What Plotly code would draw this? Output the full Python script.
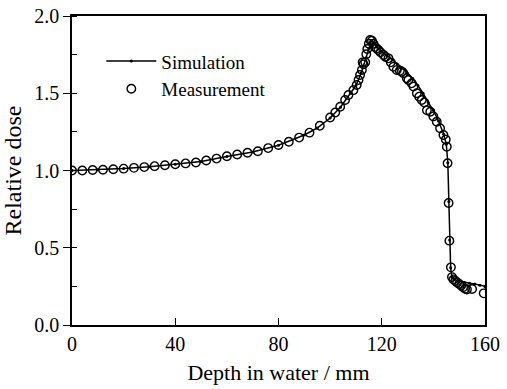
import plotly.graph_objects as go

# Simulation (line with small dots)
sim_x = [0, 10, 20, 30, 40, 50, 60, 70, 80, 90, 95, 100, 104, 108, 110, 112, 114, 115, 116,
         117, 118, 120, 122, 124, 126, 128, 130, 132, 134, 136, 138, 140, 142, 144, 145,
         145.6, 146, 146.3, 146.7, 147.2, 148, 150, 152, 154, 156, 158, 160]
sim_y = [1.000, 1.005, 1.013, 1.025, 1.040, 1.058, 1.090, 1.120, 1.163, 1.230, 1.275, 1.340,
         1.410, 1.500, 1.550, 1.630, 1.730, 1.790, 1.840,
         1.825, 1.800, 1.770, 1.745, 1.715, 1.690, 1.665, 1.630, 1.595, 1.550, 1.500, 1.440,
         1.390, 1.320, 1.235, 1.170,
         1.050, 0.800, 0.550, 0.370, 0.310, 0.295, 0.285, 0.275, 0.270, 0.265, 0.258, 0.250]

# Measurement (open circles)
meas_x = [0, 4, 8, 12, 16, 20, 24, 28, 32, 36, 40, 44, 48, 52, 56, 60, 64, 68, 72, 76, 80,
          84, 88, 92, 96, 100, 102, 103.9, 105.8, 107.1, 109, 110.3, 111, 111.6, 112.3,
          112.6, 112.9, 113.6, 114, 114.4, 115, 115.5,
          116.2, 116.8, 117.4, 118, 118.7, 119.5, 120.7, 121.5, 122.6, 123.5, 124.5, 125.8,
          127, 127.8, 128.4, 129.7, 130.3, 131.6, 132.3, 133.6, 134.5, 135.5, 136.5, 137.5,
          138.8, 140, 141.3, 142.6, 143.9, 144.8, 145.2, 145.5, 145.9, 146.2, 146.8, 147.2,
          147.8, 148.5, 149.2, 150, 150.8, 151.5, 152.3, 153, 155, 159.5]
meas_y = [1.000, 1.000, 1.003, 1.005, 1.008, 1.012, 1.017, 1.022, 1.028, 1.034, 1.040, 1.046,
          1.052, 1.065, 1.077, 1.092, 1.104, 1.115, 1.125, 1.145, 1.165, 1.186, 1.213, 1.245,
          1.290, 1.343, 1.375, 1.413, 1.456, 1.489, 1.520, 1.553, 1.586, 1.618, 1.650,
          1.700, 1.687, 1.700, 1.752, 1.786, 1.820, 1.845,
          1.840, 1.820, 1.800, 1.790, 1.780, 1.765, 1.748, 1.735, 1.726, 1.700, 1.672, 1.650,
          1.645, 1.640, 1.630, 1.597, 1.586, 1.564, 1.543, 1.500, 1.478, 1.456, 1.440, 1.390,
          1.380, 1.350, 1.316, 1.273, 1.230, 1.200, 1.154, 1.047, 0.790, 0.546, 0.373, 0.310,
          0.295, 0.285, 0.275, 0.265, 0.255, 0.245, 0.235, 0.230, 0.233, 0.205]

x_ticks = [0, 40, 80, 120, 160]
y_ticks = [0.0, 0.5, 1.0, 1.5, 2.0]
y_ticklabels = ["0.0", "0.5", "1.0", "1.5", "2.0"]

FONT = "Liberation Serif"

fig = go.Figure()
fig.add_trace(go.Scatter(
    x=sim_x, y=sim_y, mode="lines+markers", name="Simulation",
    line=dict(color="black", width=1.5),
    marker=dict(color="black", size=3, symbol="circle"),
))
fig.add_trace(go.Scatter(
    x=meas_x, y=meas_y, mode="markers", name="Measurement",
    marker=dict(symbol="circle-open", size=8.5, color="black", line=dict(width=1.4)),
))

fig.update_layout(
    width=507, height=389,
    margin=dict(l=72, r=22, t=16, b=64),
    paper_bgcolor="white", plot_bgcolor="white",
    font=dict(family=FONT, size=20, color="black"),
    showlegend=True,
    legend=dict(x=0.071, y=0.915, xanchor="left", yanchor="top",
                bgcolor="rgba(0,0,0,0)", font=dict(size=19, family=FONT),
                itemwidth=50, tracegroupgap=0),
)
fig.update_xaxes(
    range=[0, 160], tickvals=x_ticks, ticktext=[str(v) for v in x_ticks],
    ticks="inside", ticklen=7, tickwidth=1.3, tickcolor="black",
    showline=True, linecolor="black", linewidth=1.5, mirror=True,
    showgrid=False, zeroline=False, automargin=False,
    title=dict(text="Depth in water / mm", font=dict(size=22, family=FONT), standoff=11),
    tickfont=dict(size=20, family=FONT),
)
fig.update_yaxes(
    range=[0, 2.0], tickvals=y_ticks, ticktext=y_ticklabels,
    ticks="outside", ticklen=7, tickwidth=1.3, tickcolor="black",
    minor=dict(ticks="inside", ticklen=5, tickwidth=1.2, tickcolor="black", dtick=0.25, tick0=0),
    showline=True, linecolor="black", linewidth=1.5, mirror=True,
    showgrid=False, zeroline=False, automargin=False,
    title=dict(text="Relative dose", font=dict(size=24, family=FONT), standoff=6),
    tickfont=dict(size=20, family=FONT),
)

fig.write_html("out.html")
